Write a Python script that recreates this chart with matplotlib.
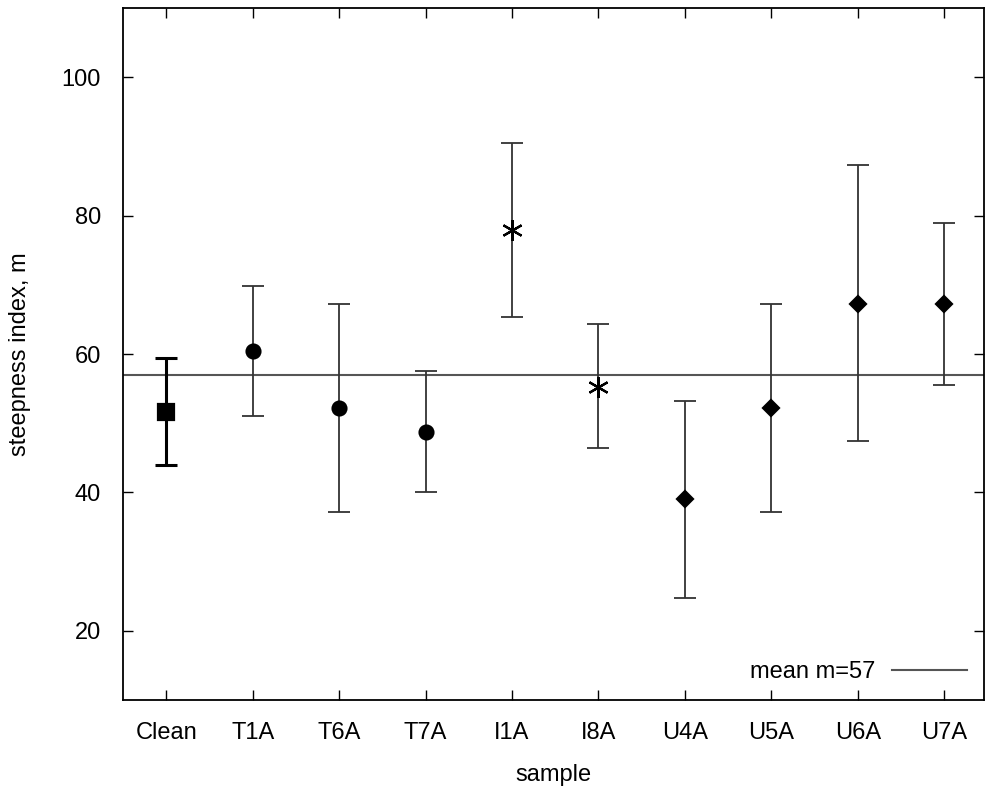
import numpy as np
import matplotlib.pyplot as plt

plt.rcParams['font.family'] = ['Liberation Sans', 'DejaVu Sans']

# samples and steepness index values
samples = ['Clean', 'T1A', 'T6A', 'T7A', 'I1A', 'I8A', 'U4A', 'U5A', 'U6A', 'U7A']
m_value = [51.7, 60.4, 52.2, 48.8, 78.0, 55.3, 39.0, 52.2, 67.3, 67.3]
m_low = [44.0, 51.0, 37.2, 40.0, 65.3, 46.5, 24.7, 37.2, 47.4, 55.6]
m_high = [59.4, 69.8, 67.2, 57.6, 90.5, 64.3, 53.2, 67.2, 87.3, 79.0]
mean_m = 57

groups = [
    ([0], 's', 11),
    ([1, 2, 3], 'o', 10),
    ([4, 5], (6, 2, 0), 15),
    ([6, 7, 8, 9], 'D', 8),
]

fig = plt.figure(figsize=(9.85, 7.96), dpi=100)
ax = fig.add_axes([0.1249, 0.1206, 0.874, 0.869])

x = np.arange(len(samples))
v = np.array(m_value)
lo = v - np.array(m_low)
hi = np.array(m_high) - v

ax.axhline(mean_m, color='#555555', lw=1.5, label='mean m=%d' % mean_m)

for idx, marker, ms in groups:
    idx = np.array(idx)
    lw = 2.2 if 0 in idx else 1.3
    col = 'black' if 0 in idx else '#333333'
    ax.errorbar(x[idx], v[idx], yerr=[lo[idx], hi[idx]], fmt='none',
                ecolor=col, elinewidth=lw, capsize=8, capthick=lw)
    ax.plot(x[idx], v[idx], linestyle='none', marker=marker, ms=ms,
            color='black', mew=1.6)

ax.set_xlim(-0.5, 9.46)
ax.set_ylim(10, 110)
ax.set_xticks(x)
ax.set_xticklabels(samples)
ax.set_yticks([20, 40, 60, 80, 100])
ax.tick_params(direction='in', top=True, right=True, length=7, width=1,
               labelsize=17, pad=16)
for s in ax.spines.values():
    s.set_linewidth(1.3)

ax.set_xlabel('sample', fontsize=17, labelpad=14)
ax.set_ylabel('steepness index, m', fontsize=17, labelpad=22)

ax.legend(loc='lower right', frameon=False, markerfirst=False, fontsize=17,
          handlelength=3.2, handletextpad=0.7, borderaxespad=0.3)

fig.savefig('out.png')
